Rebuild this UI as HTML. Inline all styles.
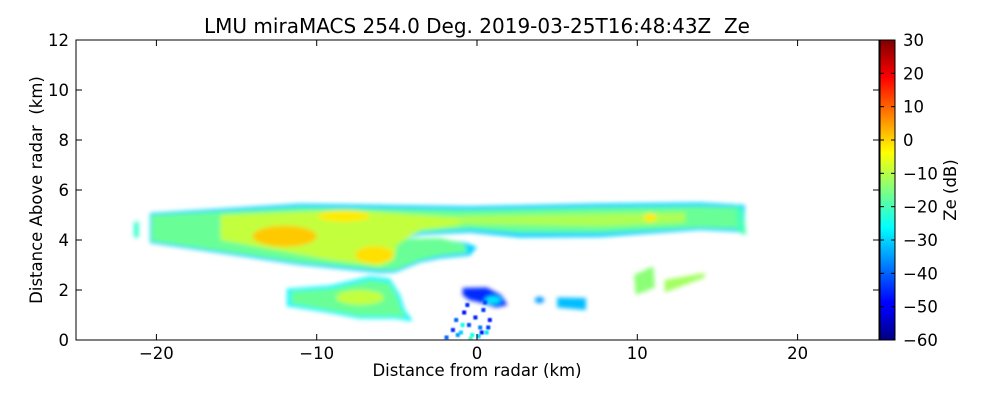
<!DOCTYPE html>
<html><head><meta charset="utf-8">
<style>
html,body{margin:0;padding:0;background:#fff;}
svg{display:block;font-family:"DejaVu Sans","Liberation Sans",sans-serif;}
</style></head>
<body>
<svg id="chart" width="1000" height="400" viewBox="0 0 1000 400" xmlns="http://www.w3.org/2000/svg">
<defs>
<filter id="soft" x="-5%" y="-5%" width="110%" height="110%"><feGaussianBlur stdDeviation="2.2"/></filter>
<filter id="soft2" x="-5%" y="-5%" width="110%" height="110%"><feGaussianBlur stdDeviation="0.8"/></filter>
<linearGradient id="jet" x1="0" y1="1" x2="0" y2="0">
<stop offset="0" stop-color="#00007f"/><stop offset="0.11" stop-color="#0000ff"/>
<stop offset="0.125" stop-color="#0000ff"/><stop offset="0.375" stop-color="#00ffff"/>
<stop offset="0.625" stop-color="#ffff00"/><stop offset="0.875" stop-color="#ff0000"/>
<stop offset="1" stop-color="#7f0000"/>
</linearGradient>
<clipPath id="plotclip"><rect x="76" y="40" width="803" height="300"/></clipPath>
</defs>
<text x="477" y="33" text-anchor="middle" font-size="20" xml:space="preserve">LMU miraMACS 254.0 Deg. 2019-03-25T16:48:43Z  Ze</text>
<g clip-path="url(#plotclip)"><g id="marks" filter="url(#soft)"></g></g>
<g id="speckles" clip-path="url(#plotclip)" filter="url(#soft2)"></g>
<rect x="76" y="40" width="803" height="300" fill="none" stroke="#000" stroke-width="1"/>
<g id="axes"></g>
<rect x="880" y="40" width="15" height="300" fill="url(#jet)"/>
<rect x="880" y="40" width="15" height="300" fill="none" stroke="#000"/>
<g id="cbticks"></g>
<text x="477" y="376" text-anchor="middle" font-size="16.5">Distance from radar (km)</text>
<text transform="translate(42,190) rotate(-90)" text-anchor="middle" font-size="16.5" xml:space="preserve">Distance Above radar  (km)</text>
<text transform="translate(956,190) rotate(-90)" text-anchor="middle" font-size="16.5">Ze (dB)</text>
</svg>
<script>
const xTicks = [-20, -10, 0, 10, 20];
const yTicks = [0, 2, 4, 6, 8, 10, 12];
const cbTicks = [30, 20, 10, 0, -10, -20, -30, -40, -50, -60];
const regionNames = ["main-band-edge","main-band-green","main-band-yellow","right-band-yellow","core-a","core-b","core-c","core-d",
 "lower-cell-edge","lower-cell","lower-cell-core","near-radar-echo","near-radar-core","small-echo-a","small-echo-b",
 "right-echo-a","right-echo-b","far-right-strip","far-left-strip"];
const regionPolys = [
 [[-20.4,5.08],[-11.04,5.45],[-0.44,5.35],[7.67,5.46],[13.9,5.5],[16.7,5.4],[16.7,4.32],[13.9,4.4],[7.67,4.12],[2.68,4.1],[-0.44,4.3],[-3.56,4.2],[-4.8,4.0],[-2.3,4.02],[-0.75,3.9],[0,3.72],[-0.44,3.38],[-2.3,3.26],[-3.56,3.1],[-5.1,2.7],[-6.05,2.68],[-11.04,3.0],[-20.4,3.88]],
 [[-20.3,5.0],[-11.04,5.3],[-0.44,5.2],[7.67,5.3],[13.9,5.35],[16.5,5.3],[16.5,4.45],[13.9,4.5],[7.67,4.3],[2.68,4.3],[-0.44,4.45],[-3.56,4.3],[-4.6,4.05],[-2.3,4.08],[-0.8,3.85],[-0.6,3.5],[-2.3,3.38],[-3.56,3.2],[-5.1,2.8],[-6.05,2.8],[-11.04,3.1],[-20.3,3.95]],
 [[-16.0,5.0],[-8.0,5.2],[-3.56,5.0],[-1.0,4.9],[-1.0,4.6],[-3.56,4.4],[-5.0,3.8],[-5.2,3.2],[-6.05,2.95],[-9.17,3.2],[-16.0,4.0]],
 [[-1.0,4.95],[7.67,5.05],[13.0,5.1],[13.0,4.7],[7.67,4.55],[-1.0,4.65]],
 "E:-12.0,4.15,2.0,0.42","E:-8.3,4.95,1.6,0.22","E:-6.4,3.4,1.2,0.35","E:10.8,4.9,0.4,0.18",
 [[-11.85,2.05],[-9.17,2.18],[-6.67,2.55],[-5.43,2.45],[-4.8,1.8],[-4.5,1.2],[-4.0,0.75],[-5.1,0.85],[-7.3,0.85],[-9.17,1.08],[-11.85,1.35]],
 [[-11.6,1.95],[-9.17,2.05],[-6.67,2.4],[-5.5,2.3],[-5.0,1.8],[-4.7,1.2],[-4.4,0.9],[-5.1,0.95],[-7.3,0.95],[-9.17,1.18],[-11.6,1.45]],
 "E:-7.3,1.7,1.5,0.3",
 [[-0.9,2.08],[0.6,2.1],[1.5,1.8],[1.9,1.4],[1.2,1.3],[0.2,1.5],[-0.5,1.6],[-0.9,1.8]],
 "E:1.0,1.6,0.5,0.15",
 "E:3.9,1.6,0.3,0.13",
 [[5.0,1.7],[6.8,1.68],[6.8,1.2],[5.0,1.3]],
 [[9.8,2.6],[11.0,2.95],[11.1,2.1],[9.9,1.8]],
 [[11.7,2.4],[14.2,2.68],[14.2,2.5],[11.7,1.9]],
 [[16.1,5.4],[16.6,5.2],[16.8,4.2],[16.3,4.3]],
 [[-21.4,4.7],[-21.1,4.75],[-21.1,4.1],[-21.4,4.1]]
];
const regionValues = [-30,-17,-9,-11,1,-2,-1,-2,-27,-17,-9,-45,-28,-35,-32,-14,-12,-20,-22];
const speckleX = [-1.5,-1.3,-1.0,-0.8,-0.5,-0.3,-0.1,0.2,0.4,0.6,0.8,-1.9,-1.2,-0.6,0.1,0.5,-0.9,0.3,0.7,-0.4];
const speckleZ = [0.4,0.8,0.3,1.1,0.6,0.2,0.9,0.5,1.2,0.3,0.8,0.1,0.2,1.4,0.15,1.5,0.6,0.3,0.5,0.05];
const speckleV = [-45,-40,-30,-48,-42,-25,-46,-38,-44,-28,-47,-40,-35,-45,-30,-42,-25,-48,-44,-20];

const X = k => 477 + k * 16.03;
const Y = z => 340 - z * 25;
const CB = v => 340 - (v + 60) / 90 * 300;
const NS = "http://www.w3.org/2000/svg";
function jet(v){
  const t = Math.max(0, Math.min(1, (v + 60) / 90));
  const c = f => Math.round(255 * Math.max(0, Math.min(1, 1.5 - Math.abs(4 * t - f))));
  return `rgb(${c(3)},${c(2)},${c(1)})`;
}
const marks = document.getElementById('marks');
regionPolys.forEach((p, i) => {
  let el;
  if (typeof p === 'string') {
    const a = p.slice(2).split(',').map(Number);
    el = document.createElementNS(NS, 'ellipse');
    el.setAttribute('cx', X(a[0])); el.setAttribute('cy', Y(a[1]));
    el.setAttribute('rx', a[2] * 16.03); el.setAttribute('ry', a[3] * 25);
  } else {
    el = document.createElementNS(NS, 'polygon');
    el.setAttribute('points', p.map(q => X(q[0]) + ',' + Y(q[1])).join(' '));
  }
  el.setAttribute('fill', jet(regionValues[i]));
  
  
  marks.appendChild(el);
});
const sp = document.getElementById('speckles');
speckleX.forEach((x, i) => {
  const r = document.createElementNS(NS, 'rect');
  r.setAttribute('x', X(x) - 2); r.setAttribute('y', Y(speckleZ[i]) - 2);
  r.setAttribute('width', 4); r.setAttribute('height', 4);
  r.setAttribute('fill', jet(speckleV[i]));
  
  
  sp.appendChild(r);
});
const axes = document.getElementById('axes');
function line(g, x1, y1, x2, y2){
  const l = document.createElementNS(NS, 'line');
  l.setAttribute('x1', x1); l.setAttribute('y1', y1); l.setAttribute('x2', x2); l.setAttribute('y2', y2);
  l.setAttribute('stroke', '#000');
  
  
  g.appendChild(l);
}
function text(g, x, y, s, anchor){
  const t = document.createElementNS(NS, 'text');
  t.setAttribute('x', x); t.setAttribute('y', y); t.setAttribute('font-size', '16.5');
  t.setAttribute('text-anchor', anchor); t.textContent = s;
  
  
  g.appendChild(t);
}
xTicks.forEach(v => {
  line(axes, X(v), 340, X(v), 334); line(axes, X(v), 40, X(v), 46);
  text(axes, X(v), 359, v < 0 ? '\u2212' + Math.abs(v) : String(v), 'middle');
});
yTicks.forEach(v => {
  line(axes, 76, Y(v), 82, Y(v)); line(axes, 879, Y(v), 873, Y(v));
  text(axes, 69, Y(v) + 6, String(v), 'end');
});
const cbg = document.getElementById('cbticks');
cbTicks.forEach(v => {
  line(cbg, 880, CB(v), 884, CB(v)); line(cbg, 895, CB(v), 891, CB(v));
  text(cbg, 903, CB(v) + 6, v < 0 ? '\u2212' + Math.abs(v) : String(v), 'start');
});
</script>
</body></html>
